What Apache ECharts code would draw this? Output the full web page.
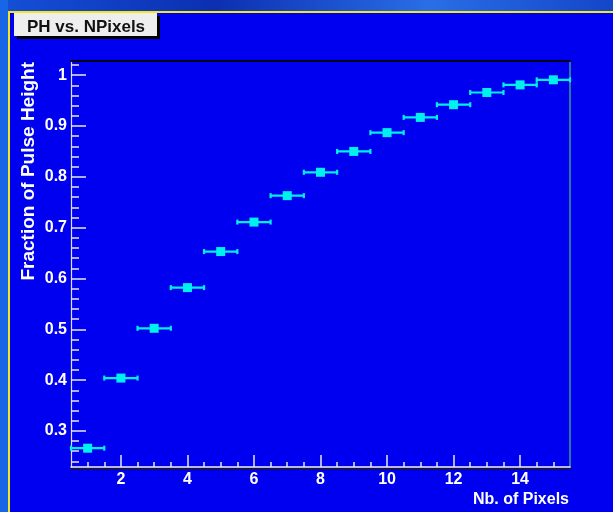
<!DOCTYPE html>
<html>
<head>
<meta charset="utf-8">
<title>PH vs. NPixels</title>
<script src="https://cdn.jsdelivr.net/npm/echarts@6/dist/echarts.min.js"></script>
<style>
  html, body { margin: 0; padding: 0; background: #0000ef; }
  #chart { width: 613px; height: 512px; }
</style>
</head>
<body>
<div id="chart"></div>
<script>
// Number of pixels in the cluster and the fraction of pulse height collected
const nPixels = [1, 2, 3, 4, 5, 6, 7, 8, 9, 10, 11, 12, 13, 14, 15];
const phFraction = [0.266, 0.404, 0.502, 0.582, 0.653, 0.711, 0.763, 0.809, 0.850, 0.887, 0.917, 0.942, 0.966, 0.981, 0.991];
const xHalfWidth = [0.5, 0.5, 0.5, 0.5, 0.5, 0.5, 0.5, 0.5, 0.5, 0.5, 0.5, 0.5, 0.5, 0.5, 0.5];

// Axis ranges and tick labels
const xRange = [0.5, 15.5];
const yRange = [0.229, 1.028];
const xMajorTicks = [2, 4, 6, 8, 10, 12, 14];
const yMajorTicks = [0.3, 0.4, 0.5, 0.6, 0.7, 0.8, 0.9, 1];

// Minor ticks: every 0.5 on x, every 0.02 on y (majors skipped)
const xMinorTicks = [];
for (let i = 2; i <= 31; i++) {
  const v = i * 0.5;
  if (v < xRange[1] && xMajorTicks.indexOf(v) < 0) xMinorTicks.push(v);
}
const yMinorTicks = [];
for (let i = 12; i <= 51; i++) {
  const v = Math.round(i * 2) / 100;
  if (v > yRange[0] && v < yRange[1] && yMajorTicks.indexOf(v) < 0) yMinorTicks.push(v);
}

const FONT = '"Liberation Sans", Arial, Helvetica, sans-serif';
const MARK = '#00f0f0';
const TICK = '#e8e8f4';

const points = nPixels.map((x, i) => [x, phFraction[i], xHalfWidth[i]]);

function errorBar(params, api) {
  const x = api.value(0), y = api.value(1), e = api.value(2);
  const a = api.coord([x - e, y]);
  const b = api.coord([x + e, y]);
  const cap = 2.5;
  const style = { stroke: MARK, lineWidth: 2.2 };
  return {
    type: 'group',
    children: [
      { type: 'line', shape: { x1: a[0], y1: a[1], x2: b[0], y2: b[1] }, style: style },
      { type: 'line', shape: { x1: a[0], y1: a[1] - cap, x2: a[0], y2: a[1] + cap }, style: style },
      { type: 'line', shape: { x1: b[0], y1: b[1] - cap, x2: b[0], y2: b[1] + cap }, style: style }
    ]
  };
}

const chart = echarts.init(document.getElementById('chart'), null, { renderer: 'canvas' });

chart.setOption({
  animation: false,
  backgroundColor: '#0000f0',
  grid: { left: 71, top: 61, right: 43, bottom: 45, containLabel: false },
  xAxis: [
    {
      type: 'value', min: xRange[0], max: xRange[1], position: 'bottom',
      axisLine: { show: true, onZero: false, lineStyle: { color: '#f2f2f2', width: 1.5, shadowColor: '#1a1a1a', shadowOffsetY: 2, shadowBlur: 0 } },
      axisTick: { show: true, inside: true, length: 12, customValues: xMajorTicks, lineStyle: { color: TICK, width: 1.5 } },
      axisLabel: { show: true, customValues: xMajorTicks, color: '#ffffff', fontSize: 16, fontWeight: 'bold', fontFamily: FONT, margin: 5 },
      splitLine: { show: false }
    },
    {
      type: 'value', min: xRange[0], max: xRange[1], position: 'bottom',
      axisLine: { show: false, onZero: false },
      axisTick: { show: true, inside: true, length: 5, customValues: xMinorTicks, lineStyle: { color: TICK, width: 1.5 } },
      axisLabel: { show: false },
      splitLine: { show: false }
    },
    {
      type: 'value', min: xRange[0], max: xRange[1], position: 'top',
      axisLine: { show: true, onZero: false, lineStyle: { color: '#000018', width: 2 } },
      axisTick: { show: false }, axisLabel: { show: false }, splitLine: { show: false }
    }
  ],
  yAxis: [
    {
      type: 'value', min: yRange[0], max: yRange[1], position: 'left',
      axisLine: { show: true, onZero: false, lineStyle: { color: '#dcdce8', width: 1.2 } },
      axisTick: { show: true, inside: true, length: 15, customValues: yMajorTicks, lineStyle: { color: TICK, width: 1.5 } },
      axisLabel: { show: true, customValues: yMajorTicks, color: '#ffffff', fontSize: 16, fontWeight: 'bold', fontFamily: FONT, margin: 4 },
      splitLine: { show: false }
    },
    {
      type: 'value', min: yRange[0], max: yRange[1], position: 'left',
      axisLine: { show: false, onZero: false },
      axisTick: { show: true, inside: true, length: 8, customValues: yMinorTicks, lineStyle: { color: TICK, width: 1.5 } },
      axisLabel: { show: false },
      splitLine: { show: false }
    },
    {
      type: 'value', min: yRange[0], max: yRange[1], position: 'right',
      axisLine: { show: true, onZero: false, lineStyle: { color: '#3c9c8c', width: 1.5 } },
      axisTick: { show: false }, axisLabel: { show: false }, splitLine: { show: false }
    }
  ],
  series: [
    {
      type: 'custom', name: 'error', xAxisIndex: 0, yAxisIndex: 0,
      renderItem: errorBar,
      encode: { x: 0, y: 1 },
      data: points, z: 3
    },
    {
      type: 'scatter', name: 'PH', xAxisIndex: 0, yAxisIndex: 0,
      symbol: 'rect', symbolSize: [9, 9],
      itemStyle: { color: MARK, opacity: 1 },
      data: points.map(p => [p[0], p[1]]), z: 4
    }
  ],
  graphic: [
    // outer canvas strips and the yellow frame of the pad
    { type: 'rect', z: -5, shape: { x: 0, y: 0, width: 613, height: 11 },
      style: { fill: new echarts.graphic.LinearGradient(0, 0, 1, 0, [
        { offset: 0, color: '#1450d8' }, { offset: 0.35, color: '#0c2fb0' },
        { offset: 0.7, color: '#2a6ee6' }, { offset: 1, color: '#1446c8' }]) } },
    { type: 'rect', z: -5, shape: { x: 0, y: 0, width: 8, height: 512 }, style: { fill: '#1766e6' } },
    { type: 'rect', z: 1, shape: { x: 8, y: 11, width: 605, height: 2 }, style: { fill: '#f4e81a' } },
    { type: 'rect', z: 1, shape: { x: 8, y: 11, width: 2, height: 501 }, style: { fill: '#f4e81a' } },
    // title box
    { type: 'rect', z: 5, shape: { x: 14, y: 13, width: 143, height: 23 },
      style: { fill: '#eeeeee', shadowColor: '#000000', shadowOffsetX: 3, shadowOffsetY: 3, shadowBlur: 0 } },
    { type: 'text', z: 6, x: 86, y: 27,
      style: { text: 'PH vs. NPixels', align: 'center', verticalAlign: 'middle', fill: '#111111', font: 'bold 17px ' + FONT } },
    // axis titles
    { type: 'text', z: 6, x: 29, y: 62, rotation: Math.PI / 2,
      style: { text: 'Fraction of Pulse Height', align: 'right', verticalAlign: 'middle', fill: '#ffffff', font: 'bold 19px ' + FONT } },
    { type: 'text', z: 6, x: 569, y: 500,
      style: { text: 'Nb. of Pixels', align: 'right', verticalAlign: 'middle', fill: '#ffffff', font: 'bold 16px ' + FONT } }
  ]
});
</script>
</body>
</html>
